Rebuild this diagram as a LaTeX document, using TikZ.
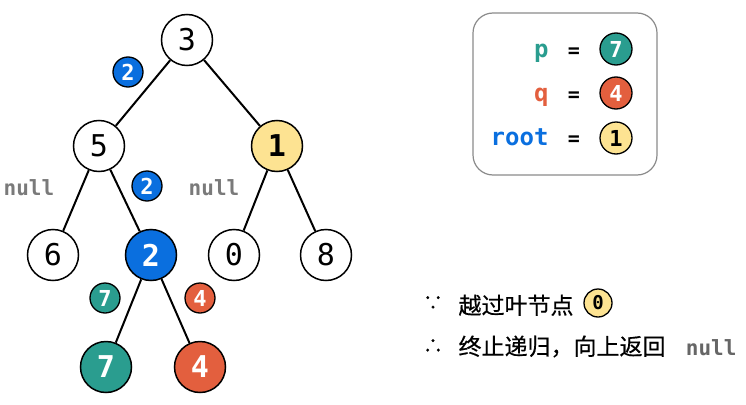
\documentclass[tikz,border=0pt]{standalone}
\usepackage{fontspec}
\setmonofont{DejaVu Sans Mono}
\newfontfamily\cjk[FakeBold=0.5]{Noto Sans CJK SC}
\usetikzlibrary{positioning}
\definecolor{pteal}{HTML}{2A9D8F}
\definecolor{qred}{HTML}{E35F3E}
\definecolor{rblue}{HTML}{0A6FDF}
\definecolor{ryellow}{HTML}{FDE392}
\definecolor{nullgray}{HTML}{7A7A7A}
\definecolor{boxgray}{HTML}{8A8A8A}

\begin{document}
\begin{tikzpicture}[
  x=1pt, y=-1pt,
  vtx/.style={
    circle, draw, line width=1.5pt,
    inner sep=0pt, minimum size=51pt,
    font=\ttfamily\fontsize{30}{30}\selectfont
  },
  hot/.style={vtx, text=white, font=\ttfamily\bfseries\fontsize{30}{30}\selectfont},
  tag/.style={
    circle, draw, line width=1.3pt,
    inner sep=0pt, minimum size=30pt, text=white,
    font=\ttfamily\bfseries\fontsize{22}{22}\selectfont
  },
  nul/.style={text=nullgray, font=\ttfamily\bfseries\fontsize{21}{21}\selectfont},
  edge/.style={line width=2pt},
  lbl/.style={font=\ttfamily\bfseries\fontsize{24}{24}\selectfont}
]
  \useasboundingbox (0,0) rectangle (746,404);
  % tree
  \foreach \v/\x/\y in {3/187/40, 5/99/146, 6/53/255, 0/234/255, 8/326/255} {
    \node[vtx] (n\v) at (\x,\y){\v};
  }
  \node[hot, fill=ryellow, text=black] (n1) at (277,146){1};
  \node[hot, fill=rblue] (n2) at (151,255){2};
  \node[hot, fill=pteal] (n7) at (106,367){7};
  \node[hot, fill=qred] (n4) at (200,367){4};
  \foreach \a/\b in {3/5,3/1,5/6,5/2,1/0,1/8,2/7,2/4} {
    \draw[edge] (n\a)--(n\b);
  }
  \node[tag, fill=rblue] (t35) at (128,72){2};
  \node[tag, fill=rblue] (t52) at (147,186){2};
  \node[tag, fill=pteal] (t27) at (105,298){7};
  \node[tag, fill=qred] (t24) at (200,298){4};
  \node[nul] (null5) at (29,188){null};
  \node[nul] (null1) at (214,188){null};
  % legend
  \node[draw=boxgray, line width=1.2pt, rounded corners=20pt,
    minimum width=184pt, minimum height=162pt] (legend) at (565,94){};
  \node[lbl, text=pteal, anchor=base east] (lp) at (552,57){p};
  \node[lbl, text=qred, anchor=base east] (lq) at (552,101){q};
  \node[lbl, text=rblue, anchor=base east] (lroot) at (552,145){root};
  \foreach \y in {57,101,145} {
    \node[lbl, anchor=base, font=\ttfamily\bfseries\fontsize{20}{20}\selectfont] at (574,\y){=};
  }
  \node[tag, fill=pteal, minimum size=32pt] (c7) at (616,49){7};
  \node[tag, fill=qred, minimum size=32pt] (c4) at (616,93){4};
  \node[tag, fill=ryellow, text=black, minimum size=32pt] (c1) at (616,138){1};
  % notes
  \node[font=\cjk\fontsize{20}{20}\selectfont] (since) at (433,303){∵};
  \node[anchor=base west, font=\cjk\fontsize{23}{23}\selectfont] (skip) at (455,314){越过叶节点};
  \node[tag, fill=ryellow, text=black, minimum size=28pt,
    font=\ttfamily\bfseries\fontsize{19}{19}\selectfont] (c0) at (598,303){0};
  \node[font=\cjk\fontsize{20}{20}\selectfont] (hence) at (433,346){∴};
  \node[anchor=base west, font=\cjk\fontsize{23}{23}\selectfont] (stop) at (455,355){终止递归，向上返回};
  \node[nul, text=black!60, anchor=base east, font=\ttfamily\bfseries\fontsize{21}{21}\selectfont] (nullret) at (740,355){null};
\end{tikzpicture}
\end{document}
